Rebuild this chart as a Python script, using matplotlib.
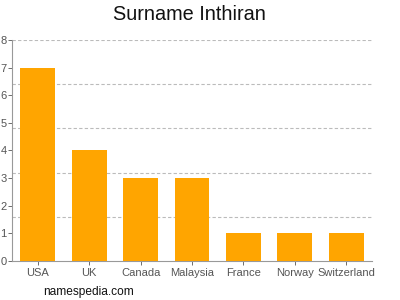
import matplotlib
matplotlib.use("Agg")
from matplotlib import pyplot as plt
import numpy as np

countries = ["USA", "UK", "Canada", "Malaysia", "France", "Norway", "Switzerland"]
counts = [7, 4, 3, 3, 1, 1, 1]
y_ticks = [0, 1, 2, 3, 4, 5, 6, 7, 8]
grid_levels = [1.6, 3.2, 4.8, 6.4, 8.0]

plt.rcParams["font.family"] = ["Liberation Sans", "DejaVu Sans"]

fig = plt.figure(figsize=(4, 3), dpi=100)
ax = fig.add_axes([0.03, 0.13, 0.90, 0.7367])

x = np.arange(len(countries))
ax.bar(x, counts, width=0.68, color="#FFA500", zorder=3)

for g in grid_levels:
    ax.axhline(g, color="#bbbbbb", linestyle=(0, (3, 2)), linewidth=0.8, zorder=1)

ax.set_xlim(-0.5, len(countries) - 0.5)
ax.set_ylim(0, 8)
ax.set_xticks(x)
ax.set_xticklabels(countries)
ax.set_yticks(y_ticks)
ax.tick_params(axis="both", labelsize=8, colors="#555555", length=3, width=0.6, pad=2)
ax.tick_params(axis="y", pad=1)

ax.spines[["top", "right"]].set_visible(False)
for s in ["left", "bottom"]:
    ax.spines[s].set_color("#999999")
    ax.spines[s].set_linewidth(0.8)

fig.text(0.4725, 0.95, "Surname Inthiran", ha="center", va="center", fontsize=14.3, color="#111111")
fig.text(0.108, 0.028, "namespedia.com", ha="left", va="center", fontsize=8.6, color="#111111")

fig.savefig("out.png", dpi=100)
